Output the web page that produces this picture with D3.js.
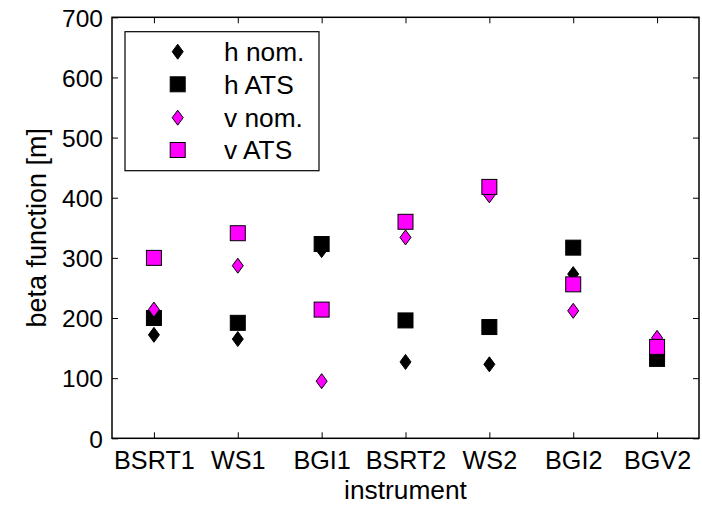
<!DOCTYPE html>
<html><head><meta charset="utf-8">
<script src="https://cdn.jsdelivr.net/npm/d3@7"></script>
<style>body{margin:0;background:#fff}svg{display:block}text{font-family:"Liberation Sans",Arial,sans-serif;fill:#000}</style>
</head><body>
<script>
const categories = ["BSRT1","WS1","BGI1","BSRT2","WS2","BGI2","BGV2"];
const hNom = [172,165,313,127,123,273,145];
const hATS = [200,192,323,196,185,317,132];
const vNom = [214,287,95,334,404,212,167];
const vATS = [300,341,214,360,418,256,152];
const yTicks = [0,100,200,300,400,500,600,700];
const seriesNames = ["h nom.","h ATS","v nom.","v ATS"];

const W=702,H=505;
const L=112,R=699,T=17.3,B=438.3;
const svg=d3.select("body").append("svg").attr("width",W).attr("height",H);
const x=d3.scaleLinear().domain([0.5,categories.length+0.5]).range([L,R]);
const y=d3.scaleLinear().domain([0,700]).range([B,T]);

// axes
const tickLen=6;
const gL=svg.append("g").attr("transform",`translate(${L},0)`).call(d3.axisLeft(y).tickValues(yTicks).tickSize(-tickLen).tickPadding(9));
const gR=svg.append("g").attr("transform",`translate(${R},0)`).call(d3.axisRight(y).tickValues(yTicks).tickSize(-tickLen).tickFormat(""));
const gB=svg.append("g").attr("transform",`translate(0,${B})`).call(d3.axisBottom(x).tickValues(d3.range(1,categories.length+1)).tickSize(-tickLen).tickPadding(13).tickFormat(d=>categories[d-1]));
const gT=svg.append("g").attr("transform",`translate(0,${T})`).call(d3.axisTop(x).tickValues(d3.range(1,categories.length+1)).tickSize(-tickLen).tickFormat(""));
[gL,gR,gB,gT].forEach(g=>{
  g.selectAll(".domain").remove();
  g.selectAll("line").attr("stroke","#000").attr("stroke-width",1);
  g.selectAll("text").attr("font-family","Liberation Sans, Arial, sans-serif").attr("fill","#000");
});
gL.selectAll("text").attr("font-size",24.5).attr("dy","0.36em");
gB.selectAll("text").attr("font-size",25.2);
svg.append("rect").attr("x",L).attr("y",T).attr("width",R-L).attr("height",B-T).attr("fill","none").attr("stroke","#000").attr("stroke-width",1.5);

// labels
svg.append("text").attr("x",(L+R)/2).attr("y",499).attr("text-anchor","middle").attr("font-size",26.3).text("instrument");
svg.append("text").attr("transform",`translate(46,${(T+B)/2}) rotate(-90)`).attr("text-anchor","middle").attr("font-size",27).text("beta function [m]");

// markers
const diamond=(cx,cy,w,h)=>`M${cx},${cy-h/2}L${cx+w/2},${cy}L${cx},${cy+h/2}L${cx-w/2},${cy}Z`;
const DW=11,DH=15,SQ=15;
function drawDiamonds(data,fill){
  svg.append("g").selectAll("path").data(data).join("path")
    .attr("d",(d,i)=>diamond(x(i+1),y(d),DW,DH)).attr("fill",fill).attr("stroke","#000").attr("stroke-width",1);
}
function drawSquares(data,fill){
  svg.append("g").selectAll("rect").data(data).join("rect")
    .attr("x",(d,i)=>x(i+1)-SQ/2).attr("y",d=>y(d)-SQ/2).attr("width",SQ).attr("height",SQ)
    .attr("fill",fill).attr("stroke","#000").attr("stroke-width",1);
}
drawDiamonds(hNom,"#000");
drawSquares(hATS,"#000");
drawDiamonds(vNom,"#ff00ff");
drawSquares(vATS,"#ff00ff");

// legend
const lg=svg.append("g");
lg.append("rect").attr("x",125).attr("y",31.7).attr("width",194).attr("height",139).attr("fill","#fff").attr("stroke","#000").attr("stroke-width",1.2);
const rows=[51.7,84.3,117.7,150];
const kinds=[["d","#000"],["s","#000"],["d","#ff00ff"],["s","#ff00ff"]];
seriesNames.forEach((n,i)=>{
  const cx=177.7, cy=rows[i];
  if(kinds[i][0]==="d") lg.append("path").attr("d",diamond(cx,cy,DW,DH)).attr("fill",kinds[i][1]).attr("stroke","#000");
  else lg.append("rect").attr("x",cx-SQ/2).attr("y",cy-SQ/2).attr("width",SQ).attr("height",SQ).attr("fill",kinds[i][1]).attr("stroke","#000");
  lg.append("text").attr("x",224).attr("y",cy).attr("dy","0.36em").attr("font-size",26.3).text(n);
});
</script>
</body></html>
